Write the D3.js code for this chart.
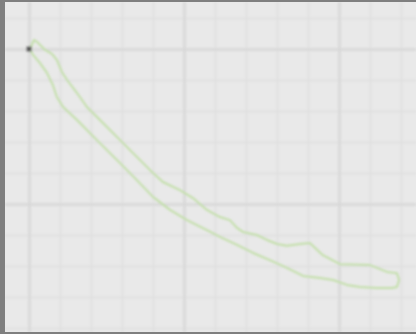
<!DOCTYPE html>
<html>
<head>
<meta charset="utf-8">
<script src="https://cdn.jsdelivr.net/npm/d3@7"></script>
<style>
  html, body { margin: 0; padding: 0; background: #7f7f7f; }
  svg { display: block; }
</style>
</head>
<body>
<div id="container"></div>
<script>
var width = 416,
    height = 334;

// grid ticks (grid units)
var minor_ticks_x = [0, 1, 2, 3, 4, 5, 6, 7, 8, 9, 10, 11, 12];
var major_ticks_x = [0, 5, 10];
var minor_ticks_y = [1, 0, -1, -2, -3, -4, -5, -6, -7, -8, -9];
var major_ticks_y = [0, -5];

// start point
var start_point = [0, 0];

// upper edge of the band, left to right
var upper_x = [0.16, 0.26, 0.52, 0.74, 0.90, 1.06, 1.23, 1.55, 1.87, 2.29, 2.94, 3.35, 3.90, 4.32, 4.87, 5.29, 5.74, 6.16, 6.48, 6.71, 6.90, 7.35, 7.68, 8.00, 8.32, 8.74, 9.06, 9.48, 10.03, 11.00, 11.23, 11.55, 11.87, 11.94, 11.87, 11.71];
var upper_y = [0.29, 0.23, -0.03, -0.16, -0.35, -0.74, -1.00, -1.42, -1.87, -2.29, -2.94, -3.35, -3.90, -4.29, -4.55, -4.81, -5.19, -5.42, -5.52, -5.77, -5.90, -6.00, -6.16, -6.29, -6.35, -6.29, -6.26, -6.65, -6.94, -6.97, -7.06, -7.19, -7.23, -7.45, -7.68, -7.71];

// lower edge of the band, right to left
var lower_x = [11.23, 10.68, 10.26, 9.81, 9.39, 8.84, 8.32, 7.77, 7.23, 6.71, 6.16, 5.74, 5.10, 4.55, 4.00, 3.48, 2.94, 2.19, 1.55, 1.10, 0.90, 0.77, 0.58, 0.35, 0.13, 0.03];
var lower_y = [-7.71, -7.68, -7.61, -7.45, -7.39, -7.32, -7.06, -6.81, -6.58, -6.32, -6.06, -5.84, -5.52, -5.19, -4.77, -4.23, -3.68, -2.94, -2.29, -1.87, -1.55, -1.16, -0.77, -0.45, -0.19, 0.00];

var plot = {left: 5, top: 2, right: 416, bottom: 332};

var x = d3.scaleLinear().domain([0, 10]).range([29, 339]);
var y = d3.scaleLinear().domain([0, -5]).range([49, 204]);

var svg = d3.select("#container")
            .append("svg")
            .attr("width", width)
            .attr("height", height);

var defs = svg.append("defs");
defs.append("filter").attr("id", "soft")
    .attr("x", "-10%").attr("y", "-10%").attr("width", "120%").attr("height", "120%")
  .append("feGaussianBlur").attr("stdDeviation", 1);
defs.append("clipPath").attr("id", "clip")
  .append("rect")
    .attr("x", plot.left).attr("y", plot.top)
    .attr("width", plot.right - plot.left).attr("height", plot.bottom - plot.top);

svg.append("rect")
   .attr("width", width).attr("height", height)
   .style("fill", "#7f7f7f");

svg.append("rect")
   .attr("x", plot.left).attr("y", plot.top)
   .attr("width", plot.right - plot.left).attr("height", plot.bottom - plot.top)
   .style("fill", "#e9e9e9");

var g = svg.append("g").attr("clip-path", "url(#clip)");
var inner = g.append("g").attr("filter", "url(#soft)");

function grid(sel, axis, color, w) {
  sel.call(axis);
  sel.select(".domain").remove();
  sel.selectAll(".tick line").attr("stroke", color).attr("stroke-width", w);
  sel.selectAll(".tick text").remove();
}

inner.append("g")
   .attr("transform", "translate(0," + plot.bottom + ")")
   .call(grid, d3.axisBottom(x).tickValues(minor_ticks_x).tickSize(-(plot.bottom - plot.top)).tickFormat(""), "#e0e0e0", 2);
inner.append("g")
   .attr("transform", "translate(" + plot.left + ",0)")
   .call(grid, d3.axisLeft(y).tickValues(minor_ticks_y).tickSize(-(plot.right - plot.left)).tickFormat(""), "#e0e0e0", 2);
inner.append("g")
   .attr("transform", "translate(0," + plot.bottom + ")")
   .call(grid, d3.axisBottom(x).tickValues(major_ticks_x).tickSize(-(plot.bottom - plot.top)).tickFormat(""), "#d8d8d8", 2.5);
inner.append("g")
   .attr("transform", "translate(" + plot.left + ",0)")
   .call(grid, d3.axisLeft(y).tickValues(major_ticks_y).tickSize(-(plot.right - plot.left)).tickFormat(""), "#d8d8d8", 2.5);

// band outline
var pts = upper_x.map(function(d, i){ return [d, upper_y[i]]; })
  .concat(lower_x.map(function(d, i){ return [d, lower_y[i]]; }));

var line = d3.line()
    .x(function(d){ return x(d[0]); })
    .y(function(d){ return y(d[1]); })
    .curve(d3.curveLinearClosed);

inner.append("path")
   .datum(pts)
   .attr("d", line)
   .style("fill", "none")
   .style("stroke", "#c2dfa8")
   .style("stroke-width", 2)
   .style("stroke-linejoin", "round");

inner.append("rect")
   .attr("x", x(start_point[0]) - 2.5)
   .attr("y", y(start_point[1]) - 2.5)
   .attr("width", 5).attr("height", 5)
   .style("fill", "#555555");
</script>
</body>
</html>
